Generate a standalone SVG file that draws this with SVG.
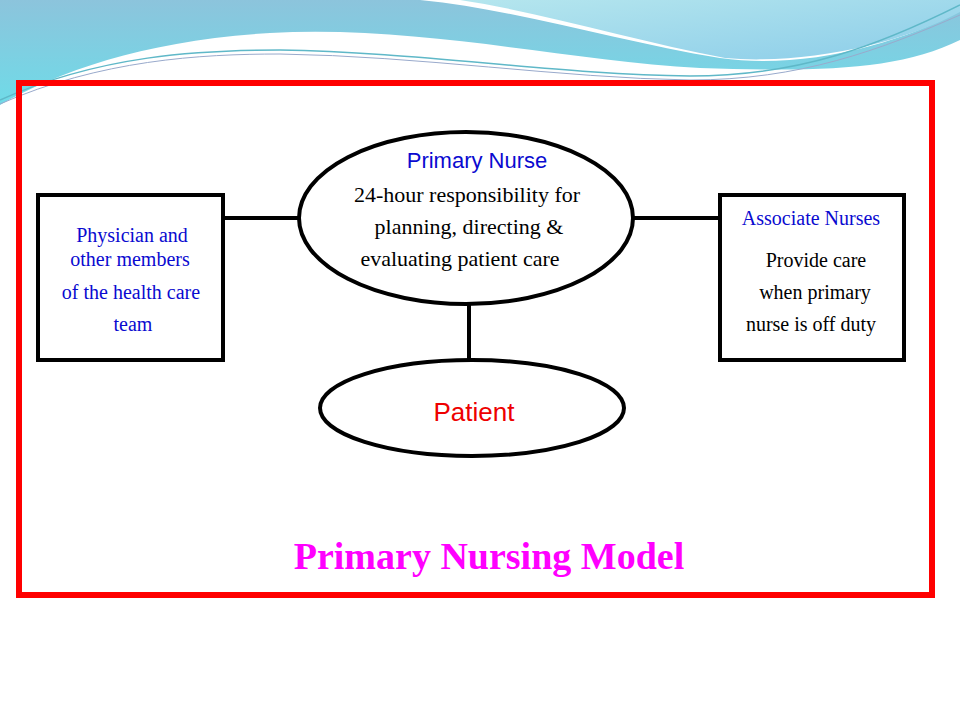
<svg xmlns="http://www.w3.org/2000/svg" width="960" height="720" viewBox="0 0 960 720">
<defs>
<linearGradient id="g1" x1="0" y1="0" x2="0" y2="1"><stop offset="0" stop-color="#8cc4dc"/><stop offset="1" stop-color="#6fdbe8"/></linearGradient>
<linearGradient id="g2" x1="0" y1="0" x2="1" y2="1"><stop offset="0" stop-color="#b5e6ee"/><stop offset="1" stop-color="#8ccde9"/></linearGradient>
<style>
.box{fill:#fff;stroke:#000;stroke-width:4}
.ln{stroke:#000;stroke-width:4;fill:none}
.t{font-family:"Liberation Serif",serif;font-size:20px;text-anchor:middle}
.b{fill:#0a0ad0}
</style>
</defs>
<path d="M0,0 H960 V40 C900,70 820,72 700,68 C560,60 420,25 270,33 C150,40 60,70 0,105 Z" fill="url(#g1)"/>
<path d="M420,0 H960 V10 C900,45 800,70 720,58 C620,42 520,10 420,0 Z" fill="#fff"/>
<path d="M460,0 H960 V12 C900,45 800,65 725,58 C640,42 540,12 460,0 Z" fill="url(#g2)"/>
<path d="M0,100 C100,55 200,50 280,50 C420,52 560,75 690,76 C800,76 880,45 960,5" fill="none" stroke="#5fb8c8" stroke-width="1.5"/>
<path d="M0,104 C100,60 200,54 280,54 C420,56 560,78 690,80 C800,80 880,50 960,15" fill="none" stroke="#9ac" stroke-width="1"/>
<rect x="19" y="83" width="913" height="512" fill="none" stroke="#f00" stroke-width="6"/>
<g id="connectors">
<line class="ln" x1="223" y1="218" x2="302" y2="218"/>
<line class="ln" x1="630" y1="218" x2="719" y2="218"/>
<line class="ln" x1="469" y1="303" x2="469" y2="361"/>
</g>
<g id="physician">
<rect class="box" x="38" y="195" width="185" height="165"/>
<text class="t b" x="132" y="242">Physician and</text>
<text class="t b" x="130" y="266">other members</text>
<text class="t b" x="131" y="299">of the health care</text>
<text class="t b" x="133" y="331">team</text>
</g>
<g id="associate">
<rect class="box" x="720" y="195" width="184" height="165"/>
<text class="t b" x="811" y="225">Associate Nurses</text>
<text class="t" x="816" y="267">Provide care</text>
<text class="t" x="815" y="299">when primary</text>
<text class="t" x="811" y="331">nurse is off duty</text>
</g>
<g id="primary">
<ellipse cx="466" cy="218" rx="167" ry="86" fill="#fff" stroke="#000" stroke-width="4"/>
<text class="t" x="477" y="168" font-size="23" fill="#0a0ad0" style="font-family:'Liberation Sans',sans-serif;font-size:22px">Primary Nurse</text>
<text class="t" x="467" y="202" style="font-size:22px">24-hour responsibility for</text>
<text class="t" x="469" y="234" style="font-size:22px">planning, directing &amp;</text>
<text class="t" x="460" y="266" style="font-size:22px">evaluating patient care</text>
</g>
<g id="patient">
<ellipse cx="472" cy="408" rx="152" ry="48" fill="#fff" stroke="#000" stroke-width="4"/>
<text class="t" x="474" y="421" fill="#e00" style="font-family:'Liberation Sans',sans-serif;font-size:26px">Patient</text>
</g>
<text class="t" x="489" y="569" fill="#f0f" font-weight="bold" style="font-size:38px">Primary Nursing Model</text>
</svg>
